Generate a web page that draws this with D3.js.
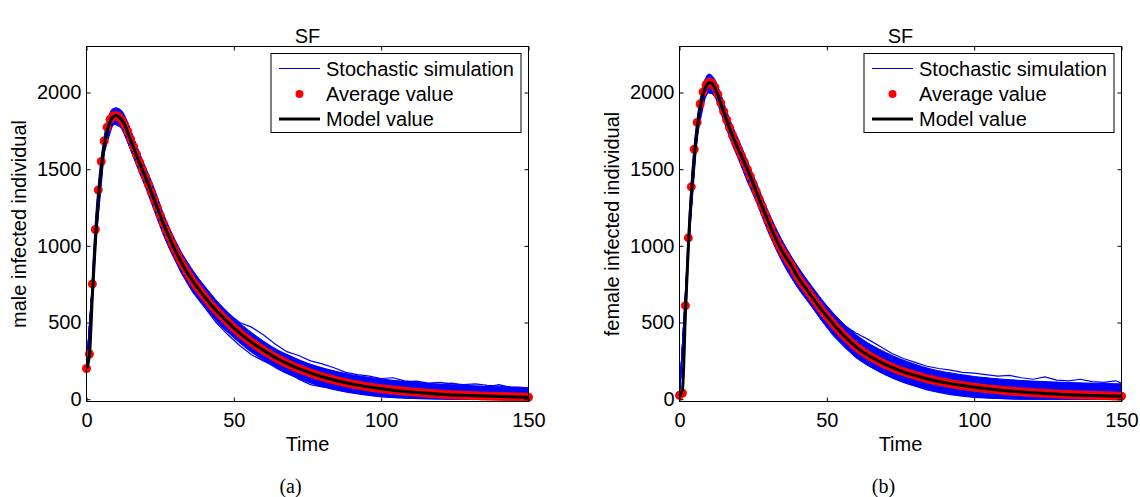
<!DOCTYPE html>
<html lang="en">
<head>
<meta charset="UTF-8">
<title>SF</title>
<style>
  body { margin: 0; background: #fff; }
  svg { display: block; font-family: "Liberation Sans", Arial, Helvetica, sans-serif; }
</style>
</head>
<body>
<svg id="chart"></svg>
<script src="https://cdn.jsdelivr.net/npm/d3@7/dist/d3.min.js"></script>
<script>
// ---- data ----
const xTicks = [0, 50, 100, 150];
const yTicks = [0, 500, 1000, 1500, 2000];
const legendLabels = ['Stochastic simulation', 'Average value', 'Model value'];

// model curve sample times
const modelTime = [0,1,2,3,4,5,6,7,8,9,10,11,12,13,14,15,16,17,18,20,22,24,26,28,30,32,35,38,40,43,46,50,55,60,65,70,75,80,85,90,95,100,110,120,130,140,150];
const modelMale = [200,290,680,1020,1300,1500,1650,1750,1810,1842,1850,1842,1820,1790,1740,1690,1640,1590,1540,
  1450,1350,1250,1150,1060,975,900,800,720,670,600,540,465,385,320,262,215,178,146,120,99,82,68,47,33,24,18,13];
const modelFemale = [20,60,560,1000,1330,1580,1760,1900,1990,2040,2063,2060,2030,1985,1930,1875,1820,1768,1718,
  1630,1545,1455,1355,1260,1165,1075,960,870,800,720,640,540,430,340,275,225,185,155,128,108,92,78,56,42,31,24,19];

// average of the simulations, one value per time step t = 0..150
const avgMale = [
  200,295,752,1107,1364,1550,1684,1774,1824,1846,
  1850,1840,1818,1786,1744,1696,1646,1596,1546,1497,
  1450,1400,1350,1300,1250,1199,1150,1104,1060,1017,
  975,937,900,866,832,800,772,745,720,695,
  670,646,622,600,579,559,540,520,501,483,
  465,448,432,416,400,385,371,358,345,332,
  320,308,296,284,273,262,252,242,233,224,
  215,207,199,192,185,178,171,165,158,152,
  146,141,135,130,125,120,116,111,107,103,
  99,96,92,89,85,82,79,76,73,71,
  68,66,64,62,60,58,56,54,52,50,
  48,46,45,43,42,40,39,37,36,35,
  33,32,31,30,29,28,27,27,26,25,
  24,23,23,22,21,21,20,20,19,19,
  18,18,17,17,16,16,15,15,14,14,
  13];
const avgFemale = [
  25,40,610,1052,1385,1630,1805,1925,2003,2050,
  2068,2062,2034,1988,1932,1876,1822,1770,1720,1674,
  1630,1588,1545,1500,1455,1405,1355,1307,1260,1212,
  1165,1118,1072,1032,995,960,929,899,870,835,
  800,772,746,720,693,666,640,614,589,564,
  540,517,494,472,451,430,411,392,374,357,
  340,327,313,300,287,275,265,254,244,234,
  225,217,208,200,192,185,179,173,167,161,
  155,150,144,139,133,128,124,120,116,112,
  108,105,101,98,95,92,89,86,83,81,
  78,76,73,71,69,67,65,63,61,59,
  57,55,54,52,51,49,48,46,45,44,
  42,41,40,39,38,37,36,35,34,33,
  32,31,31,30,29,28,28,27,27,26,
  25,25,24,24,23,23,22,21,21,20,
  20];

// dense core of the simulation runs (upper / lower edge)
const bandTime = [0,1,2,3,4,5,6,7,8,9,10,12,14,16,18,20,23,26,30,35,40,45,50,55,60,65,70,75,80,85,90,95,100,110,120,130,140,150];
const bandUpMale = [210,330,820,1160,1400,1580,1715,1810,1870,1895,1900,1880,1805,1705,1605,1515,1375,1215,1040,865,
  740,625,530,450,380,320,275,235,205,180,160,145,132,112,98,88,80,75];
const bandLoMale = [195,265,620,960,1240,1445,1595,1690,1750,1785,1795,1760,1675,1575,1475,1385,1235,1075,910,735,
  605,490,400,320,255,195,150,112,82,58,40,26,15,5,0,0,0,0];
const bandUpFemale = [30,85,660,1100,1420,1660,1835,1960,2050,2100,2120,2085,1990,1880,1780,1695,1555,1415,1230,1030,
  870,735,610,505,420,355,305,262,228,198,178,162,148,130,118,110,104,100];
const bandLoFemale = [10,25,460,900,1240,1500,1685,1835,1925,1975,2000,1970,1870,1760,1655,1565,1420,1290,1095,890,
  730,600,470,365,272,208,158,118,86,60,40,25,14,4,0,0,0,0];

// single simulation runs that stray from the core
const traceTime = [0,3,6,9,12,16,20,24,28,32,36,40,44,48,52,56,60,64,68,72,76,80,84,88,92,96,100,104,108,112,116,120,124,128,132,136,140,144,148,150];
const tracesMale = [
  [200,1050,1690,1880,1860,1690,1500,1300,1110,960,840,735,640,560,500,470,420,360,310,285,250,230,205,175,160,150,135,140,120,110,100,95,105,90,85,80,95,75,70,65],
  [200,990,1610,1800,1770,1580,1390,1180,990,830,700,600,500,420,350,290,250,215,180,130,95,80,70,50,40,30,20,15,10,8,5,3,0,0,2,0,0,0,0,0],
  [200,1030,1670,1860,1835,1655,1470,1270,1085,925,800,700,610,530,465,410,360,320,290,250,225,200,180,160,140,130,115,105,100,95,85,80,75,78,70,60,65,55,60,58],
  [200,1005,1630,1825,1800,1620,1430,1230,1040,880,750,645,550,470,400,340,290,245,205,170,150,125,105,90,75,60,50,45,35,30,25,20,18,15,12,10,8,6,5,4],
  [200,1015,1660,1850,1830,1650,1465,1265,1075,915,790,690,600,520,455,400,350,305,265,235,210,190,170,155,145,130,125,120,115,118,105,110,100,95,100,90,85,80,78,70],
  [200,1020,1655,1845,1825,1645,1455,1255,1070,910,780,680,590,515,445,385,335,290,250,215,190,165,150,130,118,105,96,88,80,72,70,62,58,52,55,48,45,50,42,40]
];
const tracesFemale = [
  [20,1030,1800,2080,2070,1860,1680,1500,1305,1125,985,860,750,650,560,480,430,390,345,300,265,240,215,200,190,175,170,160,150,155,140,130,145,125,120,130,115,110,120,105],
  [20,970,1720,2000,1990,1780,1580,1400,1210,1025,870,740,630,520,420,340,270,220,180,140,110,85,60,45,30,20,12,8,5,2,0,0,0,0,0,0,0,0,0,0],
  [20,1010,1780,2060,2050,1835,1650,1470,1275,1100,955,830,720,620,525,445,380,320,280,245,215,190,170,150,130,120,105,95,90,80,75,70,72,65,60,55,60,50,48,45],
  [20,990,1745,2020,2010,1800,1610,1425,1230,1050,900,770,660,555,460,375,305,255,210,170,140,115,95,80,65,55,45,35,30,25,20,15,12,10,8,6,5,4,3,2],
  [20,1000,1770,2050,2040,1825,1640,1460,1265,1085,945,820,710,610,520,435,370,330,290,270,240,215,180,165,150,145,135,140,125,115,120,105,100,110,95,90,100,85,80,75],
  [20,1005,1765,2045,2035,1820,1635,1455,1260,1080,935,805,695,590,500,420,350,300,255,220,190,165,145,125,110,100,90,82,75,68,62,58,52,50,45,42,40,38,35,33]
];

// ---- layout ----
const width = 1140;
const height = 497;
const axTop = 46.5;
const axBottom = 401.5;
const axW = 442;
const blue = '#0000ff';
const red = '#ff0000';

const panels = [
  { left: 86.5, ylabel: 'male infected individual', caption: '(a)',
    model: modelMale, avg: avgMale, up: bandUpMale, lo: bandLoMale, traces: tracesMale },
  { left: 679.5, ylabel: 'female infected individual', caption: '(b)',
    model: modelFemale, avg: avgFemale, up: bandUpFemale, lo: bandLoFemale, traces: tracesFemale }
];

const svg = d3.select('#chart')
  .attr('width', width)
  .attr('height', height);

svg.append('rect')
  .attr('width', width)
  .attr('height', height)
  .attr('fill', '#fff');

const defs = svg.append('defs');

panels.forEach((p, k) => {
  const x = d3.scaleLinear().domain([0, 150]).range([p.left, p.left + axW]);
  const y = d3.scaleLinear().domain([-15, 2300]).range([axBottom, axTop]);
  const g = svg.append('g');

  defs.append('clipPath').attr('id', 'clip' + k)
    .append('rect')
    .attr('x', p.left).attr('y', axTop)
    .attr('width', axW).attr('height', axBottom - axTop);

  const sims = g.append('g').attr('clip-path', `url(#clip${k})`);

  // simulation core band
  sims.append('path')
    .datum(bandTime)
    .attr('d', d3.area()
      .x(t => x(t))
      .y0((t, i) => y(p.lo[i]))
      .y1((t, i) => y(p.up[i]))
      .curve(d3.curveMonotoneX))
    .attr('fill', blue)
    .attr('stroke', blue)
    .attr('stroke-width', 1);

  // individual runs
  const traceLine = d3.line()
    .x((v, i) => x(traceTime[i]))
    .y(v => y(v));
  sims.selectAll('.trace')
    .data(p.traces)
    .enter()
    .append('path')
    .attr('class', 'trace')
    .attr('d', traceLine)
    .attr('fill', 'none')
    .attr('stroke', blue)
    .attr('stroke-width', 1.2);

  // average dots (not clipped, like the original)
  g.append('g')
    .selectAll('circle')
    .data(p.avg)
    .enter()
    .append('circle')
    .attr('cx', (v, t) => x(t))
    .attr('cy', v => y(v))
    .attr('r', 4.5)
    .attr('fill', red);

  // model line on top of the dots
  g.append('g').attr('clip-path', `url(#clip${k})`)
    .append('path')
    .datum(p.model)
    .attr('d', d3.line()
      .x((v, i) => x(modelTime[i]))
      .y(v => y(v))
      .curve(d3.curveMonotoneX))
    .attr('fill', 'none')
    .attr('stroke', '#000')
    .attr('stroke-width', 3);

  // axes: ticks point inwards, mirrored on top / right
  const styleAxis = sel => {
    sel.select('.domain').remove();
    sel.attr('font-family', null).attr('font-size', 20);
    sel.selectAll('line').attr('stroke', '#000');
    sel.selectAll('text').attr('fill', '#000');
  };
  g.append('g')
    .attr('transform', `translate(0,${axBottom})`)
    .call(d3.axisBottom(x).tickValues(xTicks).tickFormat(d3.format('d'))
      .tickSizeInner(-4).tickSizeOuter(0).tickPadding(11))
    .call(styleAxis);
  g.append('g')
    .attr('transform', `translate(0,${axTop})`)
    .call(d3.axisTop(x).tickValues(xTicks).tickSizeInner(-4).tickSizeOuter(0).tickFormat(''))
    .call(styleAxis);
  g.append('g')
    .attr('transform', `translate(${p.left},0)`)
    .call(d3.axisLeft(y).tickValues(yTicks).tickFormat(d3.format('d'))
      .tickSizeInner(-4).tickSizeOuter(0).tickPadding(5))
    .call(styleAxis);
  g.append('g')
    .attr('transform', `translate(${p.left + axW},0)`)
    .call(d3.axisRight(y).tickValues(yTicks).tickSizeInner(-4).tickSizeOuter(0).tickFormat(''))
    .call(styleAxis);

  g.append('rect')
    .attr('x', p.left).attr('y', axTop)
    .attr('width', axW).attr('height', axBottom - axTop)
    .attr('fill', 'none')
    .attr('stroke', '#000')
    .attr('stroke-width', 1);

  // texts
  g.append('text')
    .attr('x', p.left + axW / 2).attr('y', 43)
    .attr('text-anchor', 'middle')
    .attr('font-size', 20)
    .text('SF');
  g.append('text')
    .attr('x', p.left + axW / 2).attr('y', 451)
    .attr('text-anchor', 'middle')
    .attr('font-size', 20)
    .text('Time');
  g.append('text')
    .attr('transform', `translate(${p.left - 61},${(axTop + axBottom) / 2}) rotate(-90)`)
    .attr('text-anchor', 'middle')
    .attr('font-size', 20)
    .text(p.ylabel);
  g.append('text')
    .attr('x', p.left + 204).attr('y', 493)
    .attr('text-anchor', 'middle')
    .attr('font-family', '"Liberation Serif", "Times New Roman", serif')
    .attr('font-size', 20)
    .text(p.caption);

  // legend
  const lg = g.append('g').attr('transform', `translate(${p.left + 184.5},53.5)`);
  lg.append('rect')
    .attr('width', 250).attr('height', 79)
    .attr('fill', '#fff')
    .attr('stroke', '#000')
    .attr('stroke-width', 1);
  const rows = [15, 40.5, 65.5];
  lg.append('line')
    .attr('x1', 8).attr('x2', 49).attr('y1', rows[0]).attr('y2', rows[0])
    .attr('stroke', blue).attr('stroke-width', 1);
  lg.append('circle')
    .attr('cx', 28.5).attr('cy', rows[1]).attr('r', 4)
    .attr('fill', red);
  lg.append('line')
    .attr('x1', 8).attr('x2', 49).attr('y1', rows[2]).attr('y2', rows[2])
    .attr('stroke', '#000').attr('stroke-width', 3);
  lg.selectAll('.lab')
    .data(legendLabels)
    .enter()
    .append('text')
    .attr('class', 'lab')
    .attr('x', 55)
    .attr('y', (d, i) => rows[i] + 7)
    .attr('font-size', 20)
    .text(d => d);
});
</script>
</body>
</html>
